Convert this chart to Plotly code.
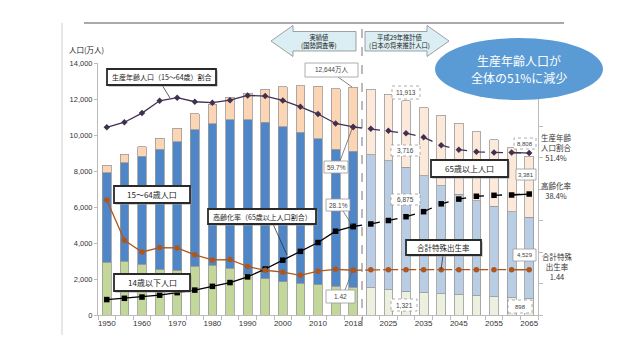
import plotly.graph_objects as go

# ---------------- data ----------------
years = ["1950", "1955", "1960", "1965", "1970", "1975", "1980", "1985", "1990", "1995",
         "2000", "2005", "2010", "2015", "2018",
         "2020", "2025", "2030", "2035", "2040", "2045", "2050", "2055", "2060", "2065"]
tick_labels = ["1950", "", "1960", "", "1970", "", "1980", "", "1990", "", "2000", "", "2010", "",
               "2018", "", "2025", "", "2035", "", "2045", "", "2055", "", "2065"]
n_actual = 15  # 1950-2018 are actual values, the rest are projections

pop_0_14 = [2943, 2980, 2807, 2517, 2482, 2722, 2751, 2603, 2249, 2001, 1847, 1752, 1680, 1589, 1542,
            1507, 1407, 1321, 1246, 1194, 1138, 1077, 1012, 951, 898]
pop_15_64 = [4966, 5473, 6000, 6693, 7157, 7581, 7883, 8251, 8590, 8716, 8622, 8409, 8103, 7629, 7545,
             7406, 7170, 6875, 6494, 5978, 5584, 5275, 5028, 4793, 4529]
pop_65 = [411, 475, 535, 618, 733, 887, 1065, 1247, 1489, 1826, 2201, 2567, 2925, 3347, 3558,
          3619, 3677, 3716, 3782, 3921, 3919, 3841, 3704, 3540, 3381]
working_age_pct = [59.6, 61.2, 64.1, 68.0, 69.0, 67.7, 67.4, 68.2, 69.7, 69.5, 68.1, 66.1, 63.8, 60.8, 59.7,
                   59.1, 58.5, 57.7, 56.4, 53.9, 52.5, 51.8, 51.6, 51.6, 51.4]
elderly_pct = [4.9, 5.3, 5.7, 6.3, 7.1, 7.9, 9.1, 10.3, 12.1, 14.6, 17.4, 20.2, 23.0, 26.6, 28.1,
               28.9, 30.0, 31.2, 32.8, 35.3, 36.8, 37.7, 38.0, 38.1, 38.4]
fertility = [3.65, 2.37, 2.00, 2.14, 2.13, 1.91, 1.75, 1.76, 1.54, 1.42, 1.36, 1.26, 1.39, 1.45, 1.42,
             1.44, 1.44, 1.44, 1.44, 1.44, 1.44, 1.44, 1.44, 1.44, 1.44]

# ---------------- styles ----------------
FONT = "Liberation Sans, Noto Sans CJK JP, sans-serif"
JFONT = "Noto Sans CJK JP, Liberation Sans, sans-serif"
C_YOUNG = ("#c4d79b", "#ebf1de")
C_WORK = ("#4f86c8", "#b9cde5")
C_OLD = ("#fcd5b4", "#fde9d9")
C_PURPLE = "#403152"
C_BLACK = "#000000"
C_BROWN = "#b0561b"


def cols(pair):
    return [pair[0] if i < n_actual else pair[1] for i in range(len(years))]


# pixel -> paper helpers (plot area: x 90..530, y 55..307)
L, R, T, B = 90, 530, 55, 307


def PX(x):
    return (x - L) / (R - L)


def PY(y):
    return (B - y) / (B - T)


fig = go.Figure()

for vals, pair, name in [(pop_0_14, C_YOUNG, "14歳以下人口"),
                         (pop_15_64, C_WORK, "15～64歳人口"),
                         (pop_65, C_OLD, "65歳以上人口")]:
    fig.add_trace(go.Bar(x=years, y=vals, name=name,
                         marker=dict(color=cols(pair), line=dict(color="#9a9a9a", width=0.8)),
                         yaxis="y"))

a = n_actual


def add_line(vals, axis, color, symbol, msize, dash):
    fig.add_trace(go.Scatter(x=years[:a], y=vals[:a], yaxis=axis, mode="lines+markers",
                             line=dict(color=color, width=1.3),
                             marker=dict(symbol=symbol, size=msize, color=color)))
    fig.add_trace(go.Scatter(x=years[a - 1:], y=vals[a - 1:], yaxis=axis, mode="lines+markers",
                             line=dict(color=color, width=1.3, dash=dash),
                             marker=dict(symbol=symbol, size=msize, color=color)))
    fig.add_trace(go.Scatter(x=years[-2:], y=vals[-2:], yaxis=axis, mode="lines",
                             line=dict(color=color, width=1.3)))


add_line(working_age_pct, "y2", C_PURPLE, "diamond", 5, "dash")
add_line(elderly_pct, "y2", C_BLACK, "square", 5.5, "dash")
add_line(fertility, "y3", C_BROWN, "circle", 5.5, "dashdot")

shapes = []
annotations = []

# frame lines
shapes.append(dict(type="line", xref="paper", yref="paper", x0=PX(54), x1=PX(54), y0=PY(15), y1=PY(327),
                   line=dict(color="#d0d0d0", width=1)))
shapes.append(dict(type="line", xref="paper", yref="paper", x0=PX(76), x1=PX(556), y0=PY(15), y1=PY(15),
                   line=dict(color="#555555", width=1)))
shapes.append(dict(type="line", xref="x", yref="paper", x0=14.5, x1=14.5, y0=PY(318), y1=PY(15),
                   line=dict(color="#777777", width=1, dash="dash")))


def poly(pts):
    return "M " + " L ".join(f"{PX(x):.5f},{PY(y):.5f}" for x, y in pts) + " Z"


arrow_l = [(263, 33), (285, 17.5), (285, 23.5), (348, 23.5), (348, 43), (285, 43), (285, 48.5)]
arrow_r = [(357, 23.5), (419, 23.5), (419, 17.5), (441, 33), (419, 48.5), (419, 43), (357, 43)]
for pts in (arrow_l, arrow_r):
    shapes.append(dict(type="path", xref="paper", yref="paper", path=poly(pts),
                       fillcolor="#daeef3", line=dict(color="#8a8a8a", width=0.8), layer="above"))

# ellipse
shapes.append(dict(type="circle", xref="paper", yref="paper", x0=PX(427), x1=PX(595), y0=PY(92), y1=PY(30),
                   fillcolor="#5b9bd5", line=dict(color="#5b9bd5", width=0), layer="above"))


def text(t, x, y, size, color="#222222", family=JFONT):
    annotations.append(dict(text=t, x=PX(x), y=PY(y), xref="paper", yref="paper", showarrow=False,
                            xanchor="center", yanchor="middle",
                            font=dict(size=size, color=color, family=family)))


def leader(x0, y0, x1, y1, color="#333333"):
    shapes.append(dict(type="line", xref="paper", yref="paper", x0=PX(x0), y0=PY(y0), x1=PX(x1), y1=PY(y1),
                       line=dict(color=color, width=0.8), layer="above"))


def box(t, x0, y0, x1, y1, size, thick=True, dash=None):
    if thick:
        shapes.append(dict(type="rect", xref="paper", yref="paper", x0=PX(x0 + 1.5), x1=PX(x1 + 1.5),
                           y0=PY(y1 + 1.5), y1=PY(y0 + 1.5), fillcolor="#a0a0a0",
                           line=dict(width=0), layer="above"))
        line = dict(color="#2a2a2a", width=1.8)
    else:
        line = dict(color="#9a9a9a", width=0.8, dash=dash) if dash else dict(color="#9a9a9a", width=0.8)
    shapes.append(dict(type="rect", xref="paper", yref="paper", x0=PX(x0), x1=PX(x1), y0=PY(y1), y1=PY(y0),
                       fillcolor="white", line=line, layer="above"))
    text(t, (x0 + x1) / 2, (y0 + y1) / 2, size, "#222222" if thick else "#444444",
         JFONT if thick else FONT)


# leader lines
leader(154, 77, 162, 90)
leader(265, 216, 279, 247)
leader(435, 247, 433, 262)
leader(330, 69, 344, 79, "#666666")
leader(332, 153, 344, 121, "#666666")
leader(335, 203, 344, 217, "#666666")
leader(337, 282, 344, 264, "#666666")

# category label boxes
box("生産年齢人口（15～64歳）割合", 99, 61, 208, 77, 7)
box("15～64歳人口", 106, 178, 182, 195, 8)
box("14歳以下人口", 106, 266, 182, 283, 8)
box("高齢化率（65歳以上人口割合）", 200, 201, 308, 216, 7)
box("65歳以上人口", 423, 152, 500, 169, 8)
box("合計特殊出生率", 398, 232, 473, 247, 7.5)

# value boxes
box("12,644万人", 297, 55, 350, 69, 6.5, thick=False)
box("11,913", 384, 78, 412, 91, 6.5, thick=False, dash="dot")
box("59.7%", 316, 153, 340, 165, 6.5, thick=False)
box("3,716", 383, 137, 412, 148, 6.5, thick=False, dash="dot")
box("28.1%", 318, 191, 342, 203, 6.5, thick=False)
box("6,875", 383, 186, 412, 197, 6.5, thick=False, dash="dot")
box("1.42", 318, 282, 347, 295, 6.5, thick=False)
box("1,321", 383, 291, 409, 303, 6.5, thick=False, dash="dot")
box("8,808", 506, 130, 528, 141, 6, thick=False, dash="dot")
box("3,381", 508, 161, 528, 172, 6, thick=False)
box("4,529", 505, 241, 528, 253, 6, thick=False)
box("898", 500, 292, 524, 305, 6, thick=False, dash="dot")

# other texts
text("人口(万人)", 78, 42, 7.5)
text("実績値<br>(国勢調査等)", 311, 33, 6.3)
text("平成29年推計値<br>(日本の将来推計人口)", 391, 33, 6.3)
text("生産年齢人口が", 511, 52, 12)
annotations[-1]["font"]["color"] = "white"
text("全体の51%に減少", 511, 69.5, 12)
annotations[-1]["font"]["color"] = "white"
text("生産年齢<br>人口割合<br>51.4%", 548, 139, 7.5, "#333333")
text("高齢化率<br>38.4%", 548, 182, 7.5, "#333333")
text("合計特殊<br>出生率<br>1.44", 549, 258, 7.5, "#333333")

fig.update_layout(
    width=640, height=360,
    margin=dict(l=L, r=640 - R, t=T, b=360 - B),
    paper_bgcolor="white", plot_bgcolor="white",
    barmode="stack", bargap=0.5,
    showlegend=False,
    font=dict(family=FONT, size=8, color="#333333"),
    xaxis=dict(type="category", tickmode="array", tickvals=years, ticktext=tick_labels,
               tickson="boundaries", ticks="outside", ticklen=4, tickcolor="#bbbbbb", tickangle=0,
               showline=True, linecolor="#bbbbbb", showgrid=False, range=[-0.5, 24.5],
               tickfont=dict(size=8, color="#333333", family=FONT)),
    yaxis=dict(range=[0, 14000], dtick=2000, tickformat=",", ticks="outside", ticklen=3,
               tickcolor="#bbbbbb", showline=True, linecolor="#bbbbbb", showgrid=False,
               zeroline=False, tickfont=dict(size=7.5, color="#333333", family=FONT)),
    yaxis2=dict(overlaying="y", side="right", range=[0, 80], dtick=10, showticklabels=False,
                ticks="outside", ticklen=4, tickcolor="#bbbbbb", showline=True, linecolor="#bbbbbb",
                showgrid=False, zeroline=False),
    yaxis3=dict(overlaying="y", side="right", range=[0, 8], visible=False),
    shapes=shapes,
    annotations=annotations,
)

fig.write_html("out.html")
